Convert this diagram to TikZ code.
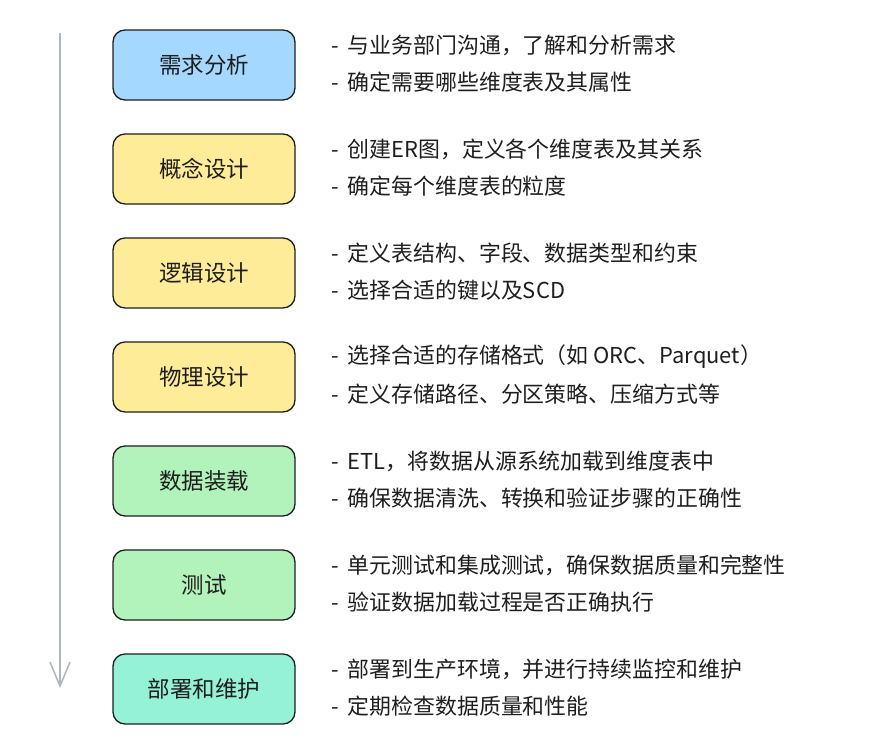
\documentclass[tikz,border=0pt]{standalone}
\usepackage{fontspec}
\setmainfont{Noto Sans CJK SC}
\usepackage{xcolor}
\usepackage{tikz}
\usetikzlibrary{arrows.meta}

\definecolor{boxblue}{HTML}{A5D8FF}
\definecolor{boxyellow}{HTML}{FFEC99}
\definecolor{boxgreen}{HTML}{B2F2BB}
\definecolor{boxteal}{HTML}{96F2D7}
\definecolor{ink}{HTML}{1E1E1E}
\definecolor{flow}{HTML}{ADB5BD}

\begin{document}
\begin{tikzpicture}[x=1pt, y=-1pt,
		stage/.style = {draw = ink, line width = 1.3pt, rounded corners = 12pt,
			minimum width = 182pt, minimum height = 70pt, text = ink,
			font = \fontsize{22.5}{26}\selectfont},
		note/.style  = {anchor = west, inner sep = 0pt, text = ink,
			font = \fontsize{21.9}{26}\selectfont}]
					\def\gap{104};
					\def\top{65};

					\useasboundingbox (0,0) rectangle (885,750);

					\begin{scope}
						\coordinate (start) at (60,33);
						\coordinate (stop)  at (60,688);
						\draw [flow, line width = 1.5pt, -{Straight Barb[length = 24pt, width = 20pt, line width = 1.5pt]}] (start) -- (stop);
					\end{scope}

					\begin{scope}
						\foreach \i/\title/\col in {1/需求分析/boxblue, 2/概念设计/boxyellow, 3/逻辑设计/boxyellow,
							4/物理设计/boxyellow, 5/数据装载/boxgreen, 6/测试/boxgreen, 7/部署和维护/boxteal}
							\node [stage, fill = \col] (s\i) at (204, {\top + \gap*(\i-1)}) {\title};
					\end{scope}

					\begin{scope}
						\foreach \i/\one/\two in {
							1/与业务部门沟通，了解和分析需求/确定需要哪些维度表及其属性,
							2/创建ER图，定义各个维度表及其关系/确定每个维度表的粒度,
							3/定义表结构、字段、数据类型和约束/选择合适的键以及SCD,
							4/选择合适的存储格式（如 ORC、Parquet）/定义存储路径、分区策略、压缩方式等,
							5/ETL，将数据从源系统加载到维度表中/确保数据清洗、转换和验证步骤的正确性,
							6/单元测试和集成测试，确保数据质量和完整性/验证数据加载过程是否正确执行,
							7/部署到生产环境，并进行持续监控和维护/定期检查数据质量和性能}
						{
							\node [note] (n\i a) at (331, {\top + \gap*(\i-1) - 20}) {-\hspace{9pt}\one};
							\node [note] (n\i b) at (331, {\top + \gap*(\i-1) + 17}) {-\hspace{9pt}\two};
						}
					\end{scope}
				\end{tikzpicture}
\end{document}
